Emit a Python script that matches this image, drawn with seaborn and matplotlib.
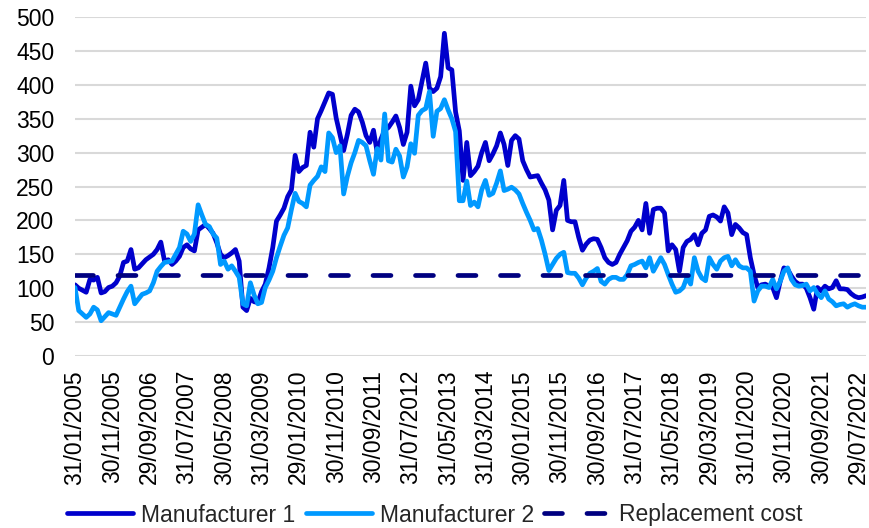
import numpy as np
import pandas as pd
import matplotlib
matplotlib.use("Agg")
import matplotlib.pyplot as plt
import seaborn as sns

# Monthly prices, Jan 2005 onwards (last business day of each month)
manufacturer_1 = [
    105, 100, 97, 94, 113, 112, 116, 93, 95, 101,
    103, 108, 118, 138, 140, 157, 128, 130, 136, 142,
    146, 150, 157, 168, 140, 142, 135, 140, 147, 160,
    164, 158, 155, 186, 190, 194, 188, 181, 167, 150,
    145, 148, 152, 157, 140, 72, 67, 85, 80, 79,
    95, 106, 130, 160, 199, 208, 218, 235, 245, 296,
    272, 278, 281, 330, 308, 350, 362, 375, 388, 386,
    351, 327, 303, 327, 355, 364, 360, 345, 325, 315,
    333, 300, 320, 333, 337, 345, 354, 337, 312, 330,
    398, 369, 378, 405, 432, 395, 390, 395, 412, 476,
    425, 422, 360, 332, 259, 315, 266, 272, 280, 300,
    315, 288, 298, 310, 329, 312, 281, 318, 325, 320,
    288, 275, 264, 265, 266, 255, 245, 230, 186, 215,
    222, 259, 200, 198, 198, 175, 156, 165, 171, 173,
    172, 160, 145, 138, 135, 138, 150, 160, 170, 184,
    190, 200, 186, 225, 181, 216, 218, 218, 211, 155,
    164, 157, 125, 160, 169, 172, 179, 164, 181, 186,
    206, 208, 205, 199, 220, 211, 179, 194, 189, 182,
    179, 145, 120, 101, 105, 106, 103, 101, 86, 110,
    130, 128, 118, 110, 106, 106, 100, 86, 69, 101,
    96, 103, 99, 101, 111, 99, 99, 98, 92, 88,
    86, 87, 89,
]

manufacturer_2 = [
    101, 67, 62, 57, 62, 72, 68, 52, 58, 64,
    62, 60, 72, 84, 95, 103, 77, 84, 91, 93,
    96, 108, 125, 132, 138, 139, 140, 150, 160, 184,
    180, 169, 180, 223, 208, 194, 191, 180, 174, 135,
    140, 128, 133, 125, 116, 77, 74, 108, 90, 77,
    79, 101, 112, 125, 145, 162, 178, 189, 216, 240,
    228, 225, 220, 252, 259, 265, 279, 272, 329, 322,
    300, 310, 239, 265, 285, 300, 318, 315, 310, 288,
    268, 306, 289, 357, 288, 286, 305, 295, 264, 279,
    313, 299, 355, 362, 365, 390, 324, 361, 365, 378,
    363, 350, 331, 229, 229, 258, 222, 227, 220, 245,
    259, 237, 240, 255, 273, 244, 246, 249, 245, 239,
    225, 212, 200, 186, 188, 171, 150, 126, 135, 144,
    150, 153, 123, 122, 122, 115, 105, 115, 122, 125,
    129, 110, 106, 113, 116, 116, 113, 113, 120, 133,
    135, 138, 140, 130, 145, 125, 135, 145, 135, 120,
    106, 94, 96, 101, 116, 106, 145, 125, 115, 111,
    145, 135, 128, 140, 145, 147, 133, 142, 133, 130,
    130, 125, 81, 96, 103, 103, 101, 113, 99, 110,
    125, 130, 113, 105, 103, 104, 106, 96, 101, 92,
    86, 96, 84, 80, 74, 76, 77, 72, 75, 77,
    74, 72, 72,
]

replacement_cost = 120
y_ticks = [0, 50, 100, 150, 200, 250, 300, 350, 400, 450, 500]
label_every = 10

n = len(manufacturer_1)
try:
    dates = pd.date_range("2005-01-31", periods=n, freq="BME")
except ValueError:
    dates = pd.date_range("2005-01-31", periods=n, freq="BM")
idx = np.arange(n)

wide = pd.DataFrame({
    "idx": idx,
    "Manufacturer 1": manufacturer_1,
    "Manufacturer 2": manufacturer_2,
    "Replacement cost": [replacement_cost] * n,
})
long = wide.melt(id_vars="idx", var_name="series", value_name="value")

sns.set_theme(style="white")
plt.rcParams["font.family"] = ["Liberation Sans", "DejaVu Sans"]
plt.rcParams["lines.dash_capstyle"] = "round"
plt.rcParams["lines.solid_capstyle"] = "round"

fig = plt.figure(figsize=(8.69, 5.28), dpi=100)
ax = fig.add_axes([75 / 869, 1 - 356 / 528, (866 - 75) / 869, (356 - 17) / 528])

palette = {
    "Manufacturer 1": "#0000CC",
    "Manufacturer 2": "#0099FF",
    "Replacement cost": "#000080",
}
dashes = {
    "Manufacturer 1": "",
    "Manufacturer 2": "",
    "Replacement cost": (3.8, 5.2),
}
sns.lineplot(
    data=long, x="idx", y="value", hue="series", style="series",
    palette=palette, dashes=dashes, linewidth=3.4, ax=ax, legend=True,
)

ax.set_xlim(0, n - 1)
ax.set_ylim(0, 500)
ax.set_yticks(y_ticks)
ax.set_yticklabels([str(v) for v in y_ticks])
tick_pos = idx[::label_every]
ax.set_xticks(tick_pos)
ax.set_xticklabels([dates[i].strftime("%d/%m/%Y") for i in tick_pos], rotation=90)
ax.tick_params(axis="both", length=0, labelsize=16.5, colors="#000000")
ax.tick_params(axis="y", pad=15)
ax.tick_params(axis="x", pad=10)
ax.set_xlabel("")
ax.set_ylabel("")
ax.grid(axis="y", color="#d9d9d9", linewidth=1.5)
ax.grid(axis="x", visible=False)
ax.set_axisbelow(True)
for s in ax.spines.values():
    s.set_visible(False)

handles, labels = ax.get_legend_handles_labels()
ax.legend(
    handles, labels, loc="center", bbox_to_anchor=(0.5, 13 / 528),
    bbox_transform=fig.transFigure, ncol=3, frameon=False, fontsize=16.5,
    handlelength=2.9, handletextpad=0.35, columnspacing=0.45,
)

fig.savefig("out.png", dpi=100, facecolor="white")
